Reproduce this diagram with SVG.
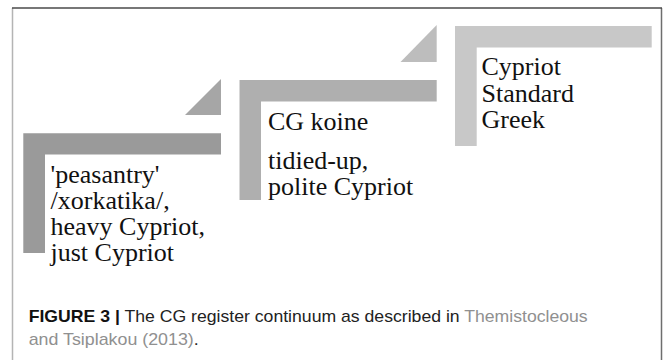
<svg xmlns="http://www.w3.org/2000/svg" width="663" height="360" viewBox="0 0 663 360">
<style>
text.lbl{font-family:'Liberation Serif','Times New Roman',serif;font-size:26px;fill:#111}
text.cap{font-family:'Liberation Sans',Arial,sans-serif;font-size:17px;fill:#222}
.b{font-weight:bold;fill:#111}
.lnk{fill:#909090}
</style>
<rect width="663" height="360" fill="#ffffff"/>
<g id="frame">
<line x1="12.5" y1="8" x2="12.5" y2="360" stroke="#b4b4b4" stroke-width="1.5"/>
<line x1="661.5" y1="8" x2="661.5" y2="360" stroke="#6e6e6e" stroke-width="1.5"/>
<line x1="12" y1="8" x2="662" y2="8" stroke="#4a4a4a" stroke-width="1.5"/>
</g>
<g id="connectors">
<polygon points="185,115 221,115 221,79" fill="#a6a6a6"/>
<polygon points="400.5,62 436.7,62 436.7,25" fill="#bdbdbd"/>
</g>
<g id="step1">
<polygon points="23.3,133.3 221,133.3 221,154.5 45,154.5 45,253 23.3,253" fill="#9a9a9a"/>
<text class="lbl" x="50.5" y="183">'peasantry'</text>
<text class="lbl" x="50.5" y="209">/xorkatika/,</text>
<text class="lbl" x="50.5" y="235">heavy Cypriot,</text>
<text class="lbl" x="50.5" y="261">just Cypriot</text>
</g>
<g id="step2">
<polygon points="239.5,80 436.7,80 436.7,101.5 261,101.5 261,200 239.5,200" fill="#afafaf"/>
<text class="lbl" x="268" y="130">CG koine</text>
<text class="lbl" x="268" y="168.5">tidied-up,</text>
<text class="lbl" x="268" y="194.5">polite Cypriot</text>
</g>
<g id="step3">
<polygon points="455,26 651.7,26 651.7,47.5 476.7,47.5 476.7,146 455,146" fill="#c8c8c8"/>
<text class="lbl" x="481.5" y="75">Cypriot</text>
<text class="lbl" x="481.5" y="101.5">Standard</text>
<text class="lbl" x="481.5" y="128">Greek</text>
</g>
<g id="caption">
<text class="cap" x="28.7" y="322" textLength="559" lengthAdjust="spacingAndGlyphs"><tspan class="b">FIGURE 3 |</tspan> The CG register continuum as described in <tspan class="lnk">Themistocleous</tspan></text>
<text class="cap" x="28.7" y="345" textLength="170" lengthAdjust="spacingAndGlyphs"><tspan class="lnk">and Tsiplakou (2013)</tspan>.</text>
</g>
</svg>
